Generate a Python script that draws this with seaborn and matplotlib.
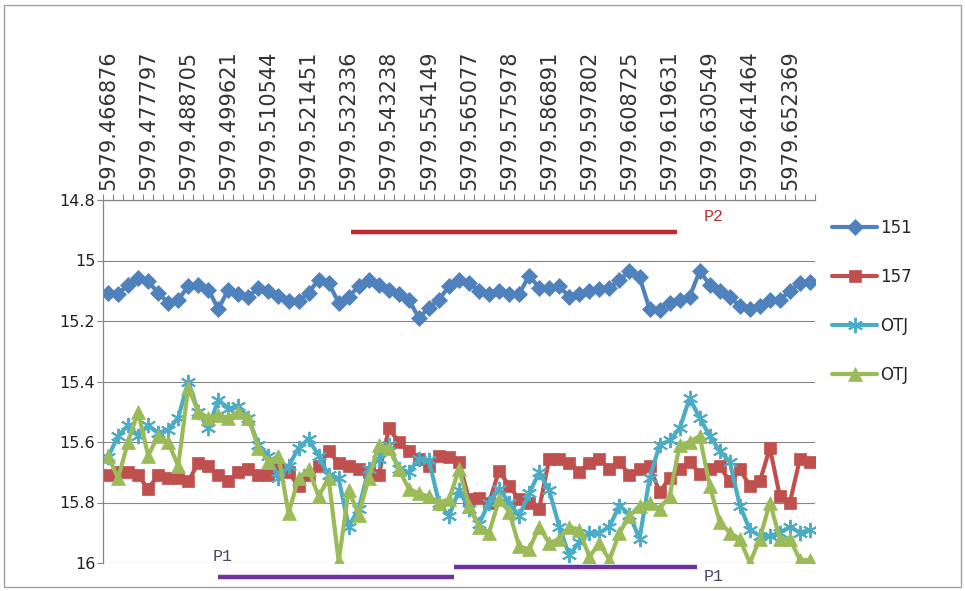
import numpy as np
import matplotlib
matplotlib.use("Agg")
import matplotlib.pyplot as plt
import matplotlib.patches as mpatches
import seaborn as sns

# category labels shown on the top axis (every 4th point)
xTickLabels = [
    "5979.466876", "5979.477797", "5979.488705", "5979.499621", "5979.510544",
    "5979.521451", "5979.532336", "5979.543238", "5979.554149", "5979.565077",
    "5979.575978", "5979.586891", "5979.597802", "5979.608725", "5979.619631",
    "5979.630549", "5979.641464", "5979.652369",
]
labelStep = 4

series151 = [
    15.107, 15.11, 15.08, 15.058, 15.069, 15.107, 15.14, 15.13, 15.085, 15.08,
    15.096, 15.16, 15.096, 15.11, 15.12, 15.09, 15.10, 15.118, 15.134, 15.134,
    15.107, 15.063, 15.074, 15.14, 15.12, 15.085, 15.063, 15.08, 15.096, 15.11,
    15.13, 15.19, 15.156, 15.13, 15.085, 15.063, 15.075, 15.10, 15.11, 15.10,
    15.11, 15.11, 15.05, 15.09, 15.09, 15.085, 15.12, 15.11, 15.10, 15.095,
    15.09, 15.065, 15.035, 15.055, 15.16, 15.165, 15.14, 15.13, 15.12, 15.035,
    15.08, 15.10, 15.12, 15.15, 15.16, 15.15, 15.13, 15.13, 15.10, 15.075,
    15.07,
]

series157 = [
    15.71, 15.70, 15.70, 15.71, 15.755, 15.71, 15.72, 15.72, 15.73, 15.67,
    15.68, 15.71, 15.73, 15.70, 15.69, 15.71, 15.71, 15.69, 15.70, 15.745,
    15.71, 15.68, 15.63, 15.67, 15.68, 15.69, 15.70, 15.71, 15.555, 15.60,
    15.63, 15.655, 15.68, 15.645, 15.65, 15.665, 15.79, 15.785, 15.80, 15.695,
    15.745, 15.79, 15.80, 15.82, 15.655, 15.655, 15.67, 15.70, 15.67, 15.655,
    15.69, 15.665, 15.71, 15.69, 15.68, 15.765, 15.72, 15.69, 15.665, 15.705,
    15.69, 15.68, 15.73, 15.69, 15.745, 15.73, 15.62, 15.78, 15.80, 15.655,
    15.665,
]

seriesOtjCyan = [
    15.65, 15.58, 15.545, 15.58, 15.545, 15.57, 15.56, 15.52, 15.40, 15.50,
    15.555, 15.46, 15.49, 15.48, 15.52, 15.61, 15.645, 15.72, 15.68, 15.62,
    15.59, 15.645, 15.71, 15.72, 15.88, 15.82, 15.69, 15.655, 15.61, 15.69,
    15.70, 15.655, 15.66, 15.80, 15.845, 15.76, 15.82, 15.87, 15.80, 15.755,
    15.80, 15.845, 15.77, 15.70, 15.76, 15.88, 15.975, 15.93, 15.90, 15.90,
    15.88, 15.81, 15.84, 15.92, 15.72, 15.61, 15.595, 15.555, 15.455, 15.52,
    15.58, 15.63, 15.665, 15.81, 15.89, 15.91, 15.91, 15.90, 15.88, 15.90,
    15.89,
]

seriesOtjGreen = [
    15.645, 15.72, 15.60, 15.50, 15.645, 15.58, 15.60, 15.68, 15.42, 15.50,
    15.52, 15.51, 15.52, 15.50, 15.52, 15.62, 15.665, 15.645, 15.835, 15.72,
    15.69, 15.78, 15.72, 15.995, 15.76, 15.84, 15.72, 15.61, 15.62, 15.69,
    15.755, 15.77, 15.78, 15.80, 15.79, 15.69, 15.81, 15.88, 15.90, 15.79,
    15.83, 15.945, 15.955, 15.88, 15.935, 15.92, 15.88, 15.89, 15.98, 15.935,
    15.99, 15.90, 15.845, 15.81, 15.80, 15.82, 15.78, 15.61, 15.60, 15.58,
    15.745, 15.865, 15.90, 15.92, 16.00, 15.92, 15.80, 15.92, 15.92, 15.99,
    15.99,
]

yTicks = [14.8, 15.0, 15.2, 15.4, 15.6, 15.8, 16.0]

gridColor = "#868686"
noteFont = ["Liberation Mono", "DejaVu Sans Mono"]

sns.set_style("white")
plt.rcParams["font.family"] = ["DejaVu Sans"]

fig = plt.figure(figsize=(9.65, 5.91), dpi=100)
ax = fig.add_axes([103 / 965, 28 / 591, 712 / 965, 363 / 591])

pointIndex = np.arange(len(series151))
seriesStyles = [
    ("151", series151, "#4F81BD", "D", 8.5, 0.5),
    ("157", series157, "#C0504D", "s", 8.5, 0.5),
    ("OTJ", seriesOtjCyan, "#4BACC6", (6, 2, 0), 11, 1.4),
    ("OTJ", seriesOtjGreen, "#9BBB59", "^", 10, 0.5),
]
for seriesName, seriesValues, seriesColor, seriesMarker, markerSize, edgeWidth in seriesStyles:
    sns.lineplot(
        x=pointIndex, y=seriesValues, ax=ax, color=seriesColor,
        marker=seriesMarker, markersize=markerSize, markeredgecolor=seriesColor,
        markeredgewidth=edgeWidth, linewidth=3.0, label=seriesName,
    )

# axes: inverted value axis, category axis on top
ax.set_xlim(-0.5, len(series151) - 0.5)
ax.set_ylim(16.0, 14.8)
ax.set_yticks(yTicks)
ax.set_yticklabels([f"{v:g}" for v in yTicks], fontsize=11.5, color="#222222")
ax.yaxis.grid(True, color=gridColor, linewidth=0.8)
ax.set_axisbelow(True)
ax.tick_params(axis="y", length=4, width=0.8, color=gridColor, pad=1.5, left=True)

ax.xaxis.tick_top()
majorPositions = np.arange(0, len(xTickLabels) * labelStep, labelStep)
ax.set_xticks(majorPositions)
ax.set_xticklabels(xTickLabels, rotation=90, fontsize=15, color="#333333")
ax.set_xticks(np.arange(-0.5, len(series151)), minor=True)
ax.tick_params(axis="x", which="major", length=0, pad=7, top=True, bottom=False)
ax.tick_params(axis="x", which="minor", length=4, width=0.8, color=gridColor,
               top=True, bottom=False, direction="out")
ax.set_xlabel("")
ax.set_ylabel("")

for spineName in ["bottom", "right"]:
    ax.spines[spineName].set_visible(False)
for spineName in ["top", "left"]:
    ax.spines[spineName].set_color(gridColor)
    ax.spines[spineName].set_linewidth(0.9)

# hand drawn period markers
ax.plot([24.2, 56.7], [14.906, 14.906], color="#C0282D", linewidth=3.2,
        solid_capstyle="butt")
ax.text(60.4, 14.856, "P2", color="#B8332E", family=noteFont,
        fontsize=12, ha="center", va="center")
ax.plot([11.0, 34.5], [16.046, 16.046], color="#7030A0", linewidth=3.2,
        clip_on=False, solid_capstyle="butt")
ax.plot([34.5, 58.7], [16.012, 16.012], color="#7030A0", linewidth=3.2,
        clip_on=False, solid_capstyle="butt")
ax.text(11.4, 15.98, "P1", color="#4B4660", family=noteFont,
        fontsize=12, ha="center", va="center")
ax.text(60.4, 16.046, "P1", color="#4B4660", family=noteFont,
        fontsize=12, ha="center", va="center", clip_on=False)

legendHandles, legendLabels = ax.get_legend_handles_labels()
ax.get_legend().remove()
fig.legend(
    legendHandles, legendLabels, loc="upper left",
    bbox_to_anchor=(832 / 965, 1 - 219 / 591), bbox_transform=fig.transFigure,
    frameon=False, fontsize=12, handlelength=2.7, handletextpad=0.2,
    labelspacing=1.85, borderpad=0, borderaxespad=0,
)

fig.patches.append(mpatches.Rectangle(
    (0.004, 0.007), 0.992, 0.985, transform=fig.transFigure,
    fill=False, edgecolor="#A0A0A0", linewidth=1,
))

fig.savefig("out.png", dpi=100)
